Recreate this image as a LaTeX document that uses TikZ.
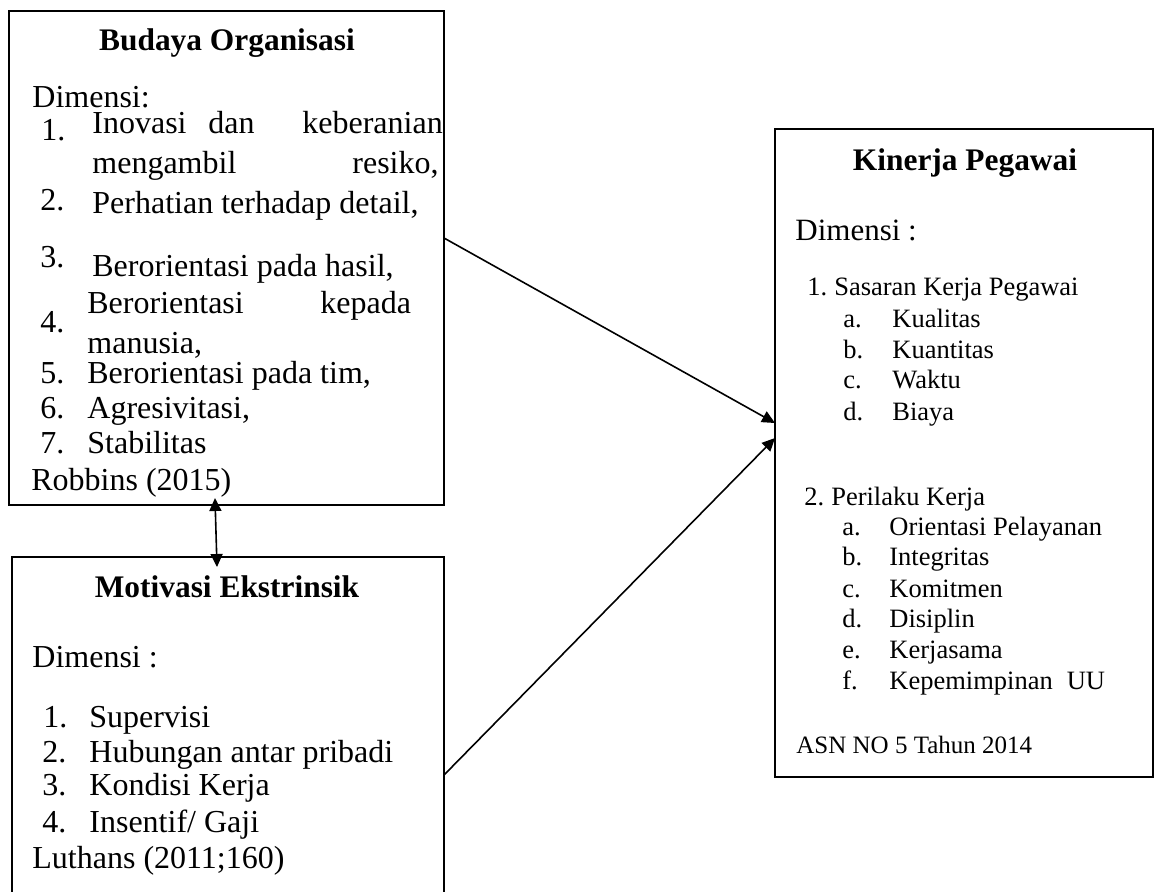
\documentclass[tikz,border=0pt]{standalone}
\usepackage{fontspec}
\setmainfont{Liberation Serif}
\usetikzlibrary{arrows.meta}
\tikzset{
  box/.style={draw, line width=1pt, rectangle, inner sep=0pt},
  tx/.style={anchor=base west, inner sep=0pt, font=\fontsize{16}{18}\selectfont},
  txs/.style={anchor=base west, inner sep=0pt, font=\fontsize{13.25}{15}\selectfont},
  ttl/.style={anchor=base, inner sep=0pt, font=\fontsize{15.7}{18}\selectfont\bfseries},
  arr/.style={line width=0.8pt, -{Triangle[length=6.5pt,width=6pt]}},
  darr/.style={line width=0.8pt, {Triangle[length=6.5pt,width=6pt]}-{Triangle[length=6.5pt,width=6pt]}}
}
\begin{document}
\begin{tikzpicture}[x=0.5pt,y=-0.5pt]
\useasboundingbox (0,0) rectangle (1155,891);
\clip (0,0) rectangle (1155,891);
% boxes
\node[box, minimum width=217.5pt, minimum height=247pt] (budaya) at (226.5,258) {};
\node[box, minimum width=216pt, minimum height=196.5pt] (motivasi) at (228,753.5) {};
\node[box, minimum width=189pt, minimum height=324pt] (kinerja) at (964,453) {};
% Budaya Organisasi
\node[ttl] (t1) at (227,50) {Budaya Organisasi};
\node[tx] (b0) at (32,107) {Dimensi:};
\node[tx] (b1n) at (41,140) {1.};
\node[tx] (b1a) at (92,133) {Inovasi};
\node[tx] (b1b) at (208,133) {dan};
\node[tx] (b1c) at (302,133) {keberanian};
\node[tx] (b1d) at (92,173) {mengambil};
\node[tx, anchor=base east] (b1e) at (439,173) {resiko,};
\node[tx] (b2n) at (40,210) {2.};
\node[tx] (b2) at (92,213) {Perhatian terhadap detail,};
\node[tx] (b3n) at (40,267) {3.};
\node[tx] (b3) at (92,276) {Berorientasi pada hasil,};
\node[tx] (b4a) at (87,313) {Berorientasi};
\node[tx] (b4b) at (320,313) {kepada};
\node[tx] (b4n) at (40,332) {4.};
\node[tx] (b4c) at (87,353) {manusia,};
\node[tx] (b5n) at (40,383) {5.};
\node[tx] (b5) at (87,383) {Berorientasi pada tim,};
\node[tx] (b6n) at (40,418) {6.};
\node[tx] (b6) at (87,418) {Agresivitasi,};
\node[tx] (b7n) at (40,453) {7.};
\node[tx] (b7) at (87,453) {Stabilitas};
\node[tx] (bref) at (31,490) {Robbins (2015)};
% Motivasi Ekstrinsik
\node[ttl] (t2) at (227,597) {Motivasi Ekstrinsik};
\node[tx] (m0) at (32,667) {Dimensi :};
\node[tx] (m1n) at (43,727) {1.};
\node[tx] (m1) at (89,727) {Supervisi};
\node[tx] (m2n) at (42,762) {2.};
\node[tx] (m2) at (89,762) {Hubungan antar pribadi};
\node[tx] (m3n) at (42,795) {3.};
\node[tx] (m3) at (89,795) {Kondisi Kerja};
\node[tx] (m4n) at (42,832) {4.};
\node[tx] (m4) at (89,832) {Insentif/ Gaji};
\node[tx] (mref) at (32,868) {Luthans (2011;160)};
% Kinerja Pegawai
\node[ttl] (t3) at (965,170) {Kinerja Pegawai};
\node[tx, font=\fontsize{15.5}{18}\selectfont] (k0) at (795,240) {Dimensi :};
\node[txs] (k1) at (807,295) {1.\hspace{3.5pt}Sasaran Kerja Pegawai};
\node[txs] (k1an) at (843,327) {a.};
\node[txs] (k1a) at (892,327) {Kualitas};
\node[txs] (k1bn) at (843,358) {b.};
\node[txs] (k1b) at (892,358) {Kuantitas};
\node[txs] (k1cn) at (843,388) {c.};
\node[txs] (k1c) at (892,388) {Waktu};
\node[txs] (k1dn) at (843,420) {d.};
\node[txs] (k1d) at (892,420) {Biaya};
\node[txs] (k2) at (804,505) {2.\hspace{3.5pt}Perilaku Kerja};
\node[txs] (k2an) at (842,535) {a.};
\node[txs] (k2a) at (889,535) {Orientasi Pelayanan};
\node[txs] (k2bn) at (842,565) {b.};
\node[txs] (k2b) at (889,565) {Integritas};
\node[txs] (k2cn) at (842,597) {c.};
\node[txs] (k2c) at (889,597) {Komitmen};
\node[txs] (k2dn) at (842,627) {d.};
\node[txs] (k2d) at (889,627) {Disiplin};
\node[txs] (k2en) at (842,658) {e.};
\node[txs] (k2e) at (889,658) {Kerjasama};
\node[txs] (k2fn) at (842,689) {f.};
\node[txs] (k2f) at (889,689) {Kepemimpinan\hspace{7pt}UU};
\node[txs, font=\fontsize{12.5}{15}\selectfont] (kref) at (796,753) {ASN NO 5 Tahun 2014};
% connector end points
\coordinate (a1s) at (444,238);
\coordinate (a1e) at (775,423);
\coordinate (a2s) at (444,775);
\coordinate (a2e) at (775,438);
\coordinate (dS) at (215,498);
\coordinate (dE) at (217,567);
\draw[arr] (a1s) -- (a1e);
\draw[arr] (a2s) -- (a2e);
\draw[darr] (dS) -- (dE);
\end{tikzpicture}
\end{document}
